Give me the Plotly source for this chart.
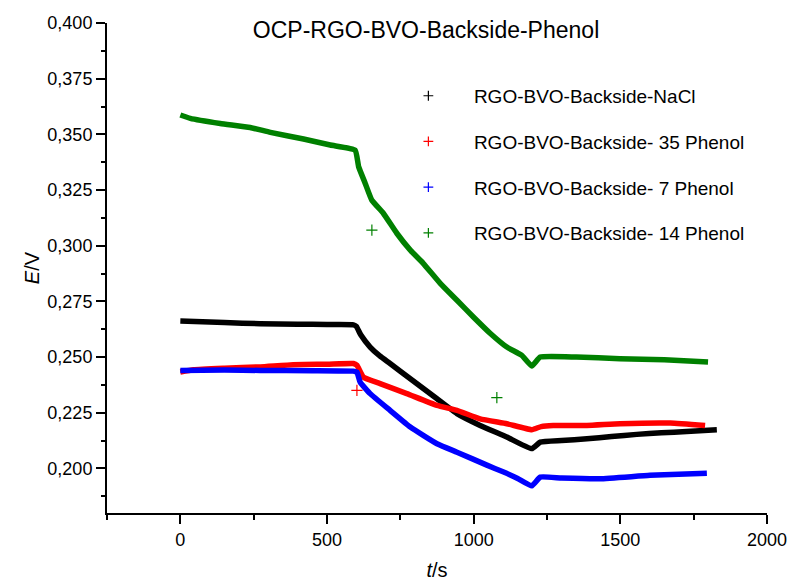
import plotly.graph_objects as go

# values (t in s, E in V)
t_nacl = [0, 50, 150, 272, 400, 500, 590, 600, 615, 647, 680, 715, 784, 875, 943,
          1022, 1113, 1198, 1227, 1300, 1386, 1470, 1556, 1640, 1726, 1829]
e_nacl = [0.2662, 0.2660, 0.2655, 0.2650, 0.2648, 0.2646, 0.2645, 0.2638, 0.2600,
          0.2545, 0.2505, 0.2471, 0.2403, 0.2313, 0.2246, 0.2193, 0.2141, 0.2089,
          0.2118, 0.2125, 0.2133, 0.2143, 0.2153, 0.2160, 0.2166, 0.2174]

t_35 = [0, 45, 150, 272, 385, 500, 590, 602, 624, 681, 772, 875, 943, 1022,
        1113, 1198, 1230, 1271, 1386, 1499, 1670, 1789]
e_35 = [0.2433, 0.2443, 0.2450, 0.2456, 0.2466, 0.2468, 0.2471, 0.2463, 0.2410,
        0.2381, 0.2336, 0.2283, 0.2261, 0.2223, 0.2201, 0.2174, 0.2188, 0.2193,
        0.2193, 0.2201, 0.2204, 0.2193]

t_7 = [0, 150, 272, 450, 590, 602, 613, 647, 715, 784, 875, 943, 1045, 1100,
       1150, 1198, 1227, 1300, 1431, 1601, 1795]
e_7 = [0.2440, 0.2442, 0.2440, 0.2439, 0.2437, 0.2433, 0.2388, 0.2336, 0.2261,
       0.2186, 0.2111, 0.2073, 0.2015, 0.1985, 0.1955, 0.1922, 0.1961, 0.1957,
       0.1954, 0.1969, 0.1979]

t_14 = [0, 34, 136, 238, 307, 420, 511, 596, 608, 630, 653, 692, 738, 784, 828,
        886, 943, 999, 1056, 1113, 1164, 1198, 1227, 1350, 1499, 1650, 1799]
e_14 = [0.3587, 0.3572, 0.3549, 0.3531, 0.3509, 0.3479, 0.3452, 0.3429, 0.3354,
        0.3281, 0.3204, 0.3146, 0.3056, 0.2980, 0.2921, 0.2831, 0.2755, 0.2680,
        0.2607, 0.2545, 0.2508, 0.2460, 0.2500, 0.2500, 0.2493, 0.2488, 0.2478]

# stray single points
t_out_35 = [602]
e_out_35 = [0.2351]
t_out_14 = [653, 1079]
e_out_14 = [0.3070, 0.2318]

names = ["RGO-BVO-Backside-NaCl", "RGO-BVO-Backside- 35 Phenol",
         "RGO-BVO-Backside- 7 Phenol", "RGO-BVO-Backside- 14 Phenol"]
colors = ["#000000", "#FF0000", "#0000FF", "#008000"]

FONT = "Liberation Sans, Arial, sans-serif"

fig = go.Figure()

series = [(t_nacl, e_nacl), (t_35, e_35), (t_7, e_7), (t_14, e_14)]
for (t, e), c in zip(series, colors):
    fig.add_trace(go.Scatter(x=t, y=e, mode="lines",
                             line=dict(color=c, width=5.5, shape="spline",
                                       smoothing=0.4),
                             showlegend=False, hoverinfo="skip"))

for t, e, c in [(t_out_35, e_out_35, colors[1]), (t_out_14, e_out_14, colors[3])]:
    fig.add_trace(go.Scatter(x=t, y=e, mode="markers",
                             marker=dict(symbol="cross-thin", size=8,
                                         line=dict(color=c, width=1.2)),
                             showlegend=False))

# legend entries (plus markers only)
for i, (n, c) in enumerate(zip(names, colors)):
    fig.add_trace(go.Scatter(x=[None], y=[None], mode="markers", name=n,
                             legendgroup=str(i),
                             marker=dict(symbol="cross-thin", size=7,
                                         line=dict(color=c, width=1.2))))

axis_common = dict(
    showline=True, linecolor="black", linewidth=2,
    ticks="outside", ticklen=9, tickwidth=2, tickcolor="black",
    showgrid=False, zeroline=False, mirror=False, automargin=False,
    tickfont=dict(family=FONT, size=18, color="black"),
)

fig.update_layout(
    width=789, height=581,
    margin=dict(l=107, r=22, t=23, b=68),
    paper_bgcolor="white", plot_bgcolor="white",
    separators=",.",
    font=dict(family=FONT, size=18, color="black"),
    title=dict(text="OCP-RGO-BVO-Backside-Phenol", x=0.54, xanchor="center",
               y=0.949, yanchor="middle", automargin=False,
               font=dict(family=FONT, size=23, color="black")),
    xaxis=dict(range=[-250, 2000], tickvals=[0, 500, 1000, 1500, 2000],
               tickformat="d",
               minor=dict(ticks="outside", ticklen=5, tickwidth=2,
                          tickcolor="black", dtick=250, tick0=0),
               title=dict(text="<i>t</i>/s", standoff=15,
                          font=dict(family=FONT, size=20)),
               **axis_common),
    yaxis=dict(range=[0.18, 0.4], dtick=0.025, tick0=0.2, tickformat=".3f",
               minor=dict(ticks="outside", ticklen=4, tickwidth=2,
                          tickcolor="black", dtick=0.0125, tick0=0.2),
               title=dict(text="<i>E</i>/V", standoff=2,
                          font=dict(family=FONT, size=20)),
               **axis_common),
    legend=dict(x=0.418, y=0.89, xanchor="left", yanchor="top",
                bgcolor="rgba(0,0,0,0)", borderwidth=0,
                itemwidth=81, tracegroupgap=18,
                font=dict(family=FONT, size=19, color="black")),
)

# drop the page's default body margin so the figure sits at the window corner
fig.write_html("out.html", config={"displayModeBar": False},
               post_script="document.body.style.margin='0';")
